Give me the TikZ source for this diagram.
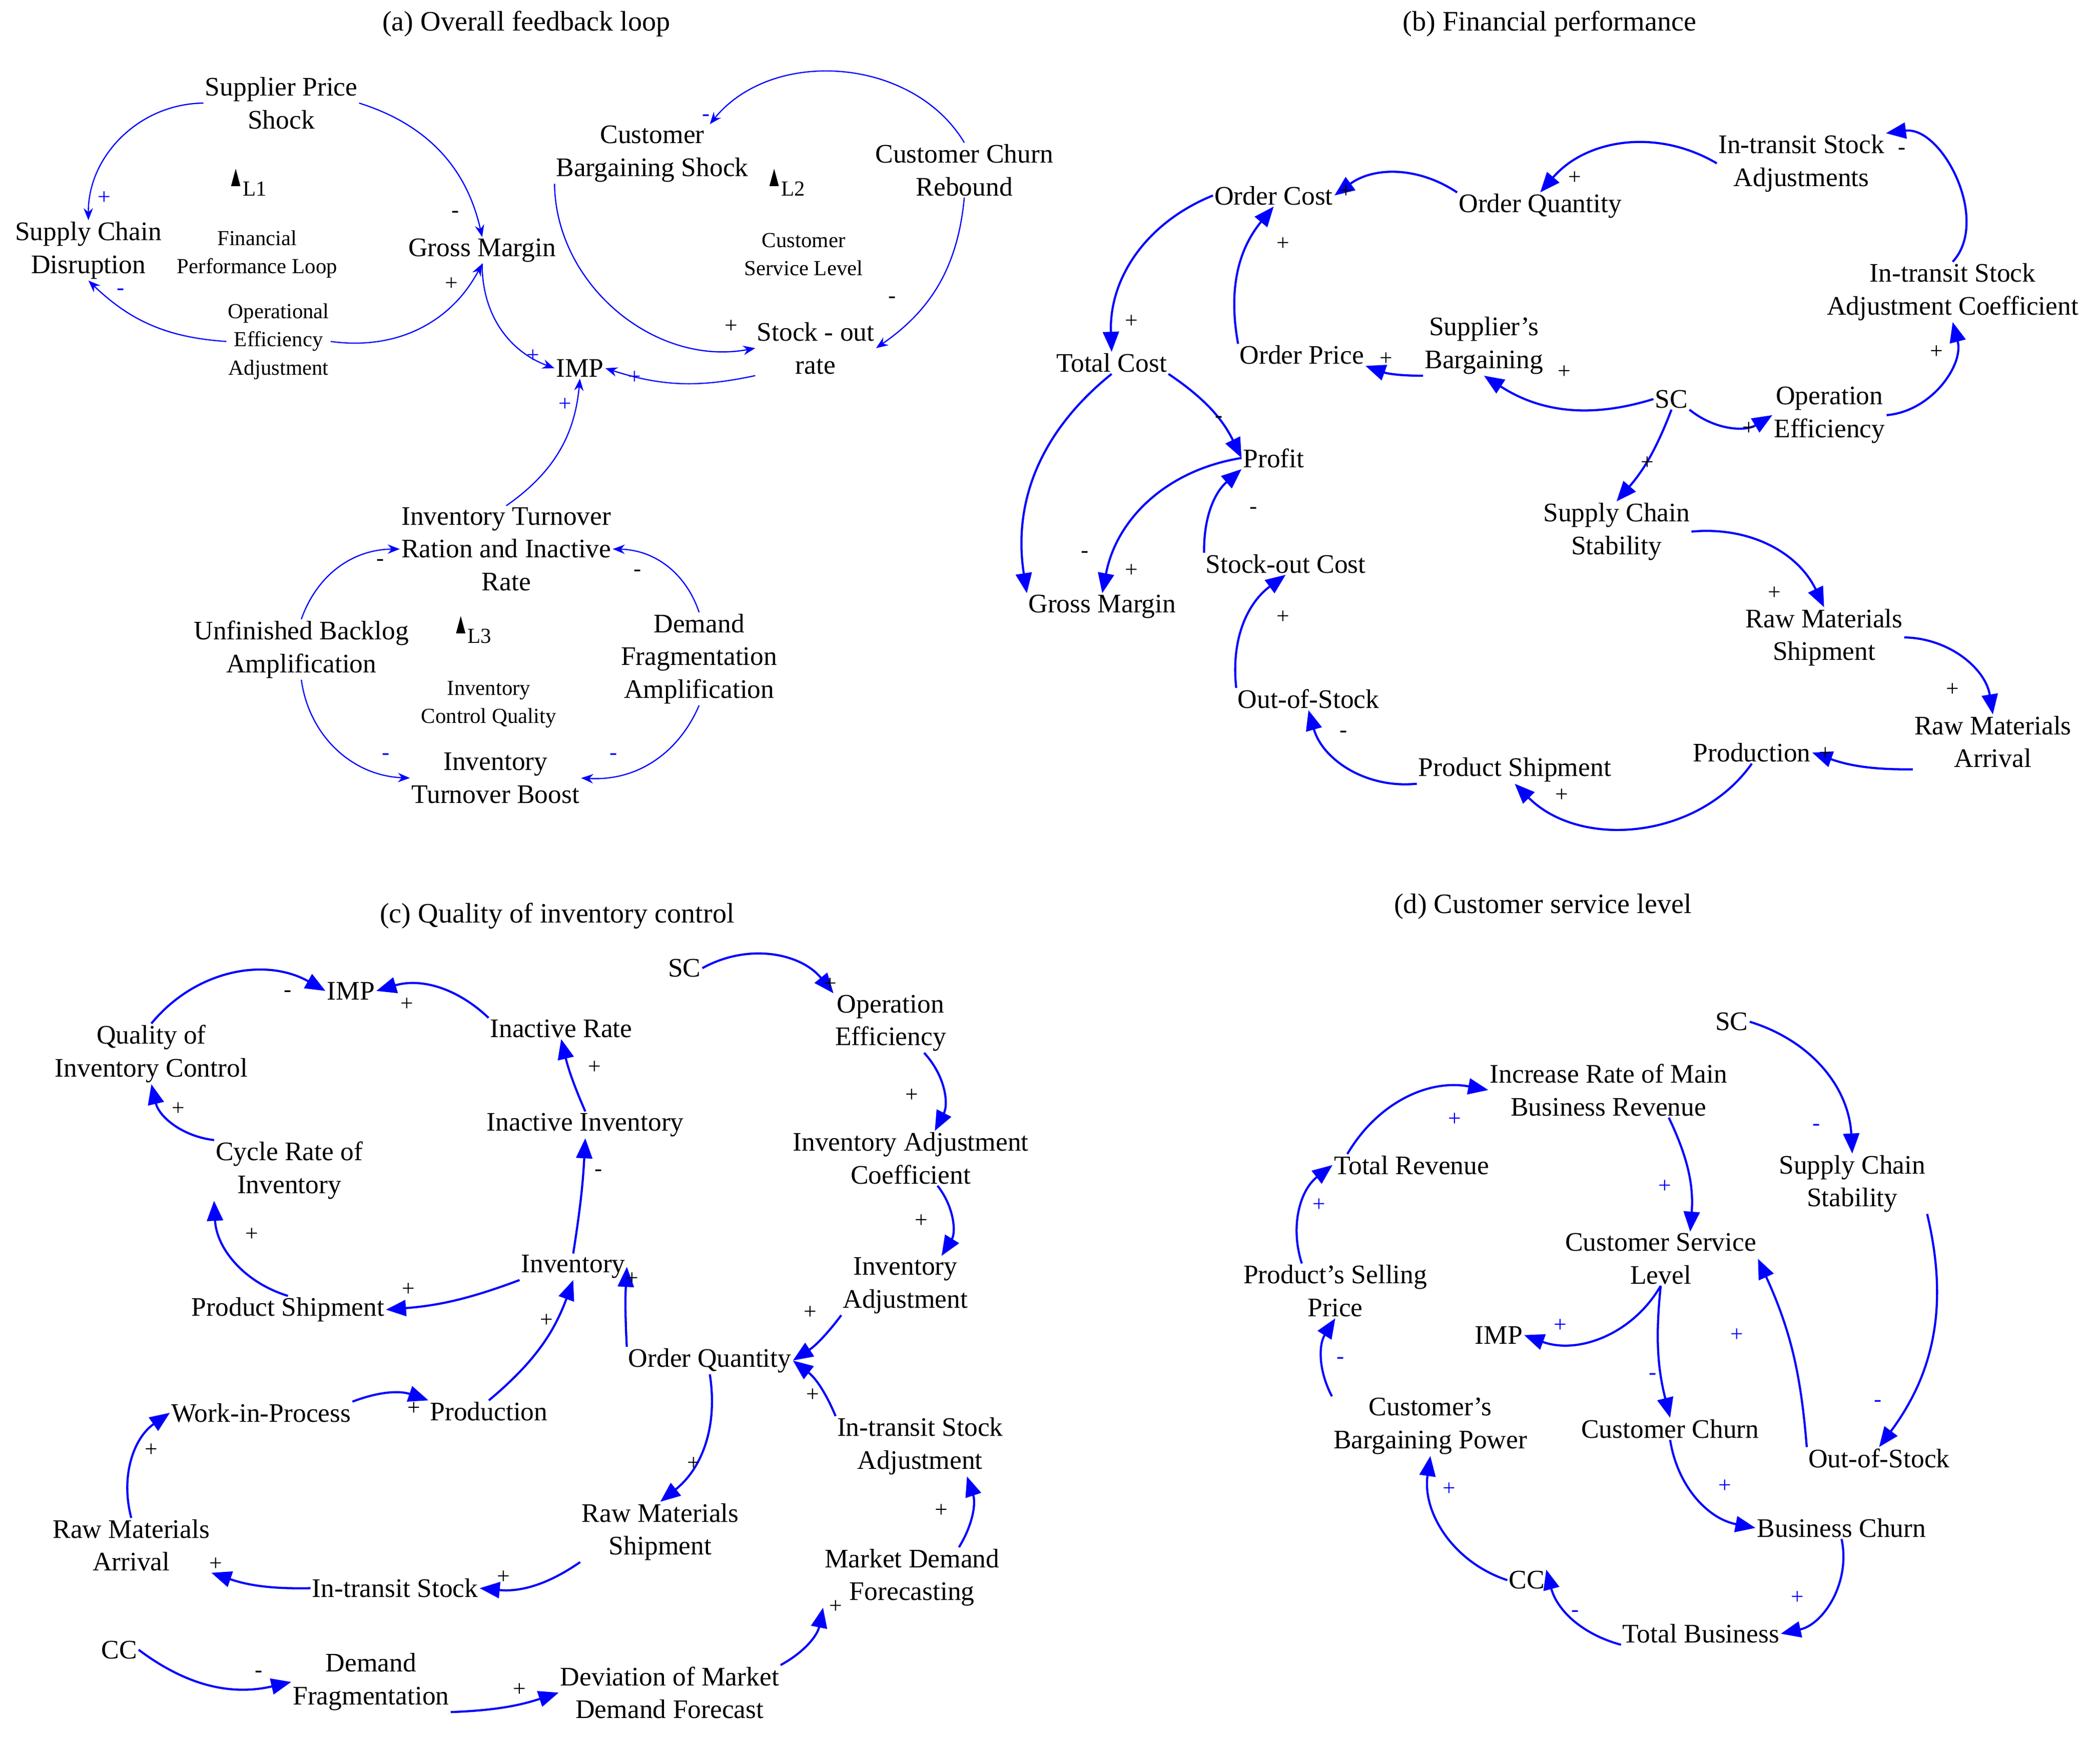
\documentclass[tikz,border=0pt]{standalone}
\usepackage{fontspec}
\setmainfont{Liberation Serif}
\usetikzlibrary{arrows.meta}
\tikzset{
  var/.style={align=center, inner sep=1pt, font=\fontsize{20}{24.5}\selectfont},
  small/.style={align=center, inner sep=1pt, font=\fontsize{16}{21}\selectfont},
  ttl/.style={inner sep=1pt, font=\fontsize{21}{24}\selectfont},
  thin/.style={draw=blue, line width=0.9pt, -{Stealth[length=9pt,width=7pt]}},
  thick/.style={draw=blue, line width=1.6pt, -{Triangle[length=15pt,width=12pt]}},
  sg/.style={inner sep=0pt, font=\fontsize{17}{17}\selectfont},
  bs/.style={sg, text=blue}
}
\begin{document}
\begin{tikzpicture}[x=1pt,y=-1pt]
\useasboundingbox (0,0) rectangle (1568,1297);

% (a) overall feedback loop
\node[ttl] (ta) at (393,18) {(a) Overall feedback loop};
\node[var] (sps) at (210,77) {Supplier Price\\Shock};
\node[var] (scd) at (66,187) {Supply Chain\\Disruption};
\node[var] (gm) at (360,187) {Gross Margin};
\node[small] (oea) at (208,255) {Operational\\Efficiency\\Adjustment};
\node[small] (fpl) at (192,190) {Financial\\Performance Loop};
\node[var] (cbs) at (487,115) {Customer\\Bargaining Shock};
\node[var] (ccr) at (720,127) {Customer Churn\\Rebound};
\node[small] (csla) at (600,190) {Customer\\Service Level};
\node[var] (sor) at (609,260) {Stock - out\\rate};
\node[var] (impa) at (433,275) {IMP};
\node[var] (itr) at (378,410) {Inventory Turnover\\Ration and Inactive\\Rate};
\node[var] (ubl) at (225,485) {Unfinished Backlog\\Amplification};
\node[var] (dfa) at (522,492) {Demand\\Fragmentation\\Amplification};
\node[var] (itb) at (370,581) {Inventory\\Turnover Boost};
\node[small] (icq) at (365,526) {Inventory\\Control Quality};
\foreach \n/\x/\y in {L1/176/133, L2/578/133, L3/344/467}{
  \fill (\x-3.5,\y+6) -- (\x+3.5,\y+6) -- (\x,\y-7) -- cycle;
  \node[small, anchor=west] (n\n) at (\x+4,\y+8) {\n};
}

\draw[thin] (sps.west) to[bend right=45] (scd.north);
\draw[thin] (sps.east) to[bend left=30] (gm.north);
\draw[thin] (oea.west) to[bend left=20] (scd.south);
\draw[thin] (oea.east) to[bend right=35] (gm.south);
\draw[thin] (gm.south) to[bend right=35] (impa.west);
\draw[thin] (ccr.north) to[bend right=55] ([xshift=-30pt]cbs.north east);
\draw[thin] (cbs.south west) to[bend right=50] (sor.west);
\draw[thin] (ccr.south) to[bend left=25] (sor.east);
\draw[thin] (sor.south west) to[bend left=15] (impa.east);
\draw[thin] (itr.north) to[bend right=25] (impa.south);
\draw[thin] (ubl.north) to[bend left=35] (itr.west);
\draw[thin] (dfa.north) to[bend right=35] (itr.east);
\draw[thin] (ubl.south) to[bend right=40] (itb.west);
\draw[thin] (dfa.south) to[bend left=35] (itb.east);

\node[bs] (a1) at (78,148) {+};
\node[sg] (a2) at (340,160) {-};
\node[bs] (a3) at (90,218) {-};
\node[sg] (a4) at (337,212) {+};
\node[bs] (a5) at (398,266) {+};
\node[bs] (a6) at (527,88) {-};
\node[sg] (a7) at (546,244) {+};
\node[sg] (a8) at (666,224) {-};
\node[bs] (a9) at (474,282) {+};
\node[bs] (a10) at (422,302) {+};
\node[sg] (a11) at (284,420) {-};
\node[sg] (a12) at (476,428) {-};
\node[bs] (a13) at (288,565) {-};
\node[bs] (a14) at (458,565) {-};

% (b) financial performance
\node[ttl] (tb) at (1157,18) {(b) Financial performance};
\node[var] (oc) at (951,146) {Order Cost};
\node[var] (oq) at (1150,154) {Order Quantity};
\node[var] (its) at (1345,122) {In-transit Stock\\Adjustments};
\node[var] (itsc) at (1458,218) {In-transit Stock\\Adjustment Coefficient};
\node[var] (tc) at (830,271) {Total Cost};
\node[var] (op) at (972,265) {Order Price};
\node[var] (sb) at (1108,258) {Supplier's\\Bargaining};
\node[var] (scb) at (1248,298) {SC};
\node[var] (oe) at (1366,310) {Operation\\Efficiency};
\node[var] (pf) at (951,342) {Profit};
\node[var] (scs) at (1207,397) {Supply Chain\\Stability};
\node[var] (soc) at (960,421) {Stock-out Cost};
\node[var] (gmb) at (823,453) {Gross Margin};
\node[var] (rms) at (1362,476) {Raw Materials\\Shipment};
\node[var] (oos) at (977,522) {Out-of-Stock};
\node[var] (rma) at (1488,554) {Raw Materials\\Arrival};
\node[var] (prod) at (1308,562) {Production};
\node[var] (ps) at (1131,575) {Product Shipment};

\draw[thick] (oq.north west) to[bend right=35] (oc.east);
\draw[thick] (its.west) to[bend right=40] (oq.north);
\draw[thick] (itsc.north) to[bend right=70] (its.north east);
\draw[thick] (oe.east) to[bend right=50] (itsc.south);
\draw[thick] (scb.south east) to[bend right=35] (oe.west);
\draw[thick] (scb.west) to[bend left=25] (sb.south);
\draw[thick] (sb.south west) to[bend left=10] (op.south east);
\draw[thick] (op.north west) to[bend left=25] (oc.south);
\draw[thick] (oc.west) to[bend right=35] (tc.north);
\draw[thick] (tc.south east) to[bend left=15] (pf.west);
\draw[thick] (tc.south) to[bend right=30] (gmb.north west);
\draw[thick] (pf.west) to[bend right=35] (gmb.north);
\draw[thick] (soc.north west) to[bend left=25] (pf.south west);
\draw[thick] (oos.north west) to[bend left=30] (soc.south);
\draw[thick] (ps.south west) to[bend left=40] (oos.south);
\draw[thick] (prod.south) to[bend left=50] (ps.south);
\draw[thick] (rma.south west) to[bend left=10] (prod.east);
\draw[thick] (rms.east) to[bend left=40] (rma.north);
\draw[thick] (scs.east) to[bend left=35] (rms.north);
\draw[thick] (scb.south) to[bend left=10] (scs.north);

\node[sg] (b1) at (1005,143) {+};
\node[sg] (b2) at (1176,133) {+};
\node[sg] (b3) at (1420,113) {-};
\node[sg] (b4) at (1446,263) {+};
\node[sg] (b5) at (1306,320) {+};
\node[sg] (b6) at (1168,278) {+};
\node[sg] (b7) at (1035,268) {+};
\node[sg] (b8) at (958,182) {+};
\node[sg] (b9) at (845,240) {+};
\node[sg] (b10) at (910,313) {-};
\node[sg] (b11) at (810,414) {-};
\node[sg] (b12) at (845,426) {+};
\node[sg] (b13) at (936,381) {-};
\node[sg] (b14) at (958,461) {+};
\node[sg] (b15) at (1003,548) {-};
\node[sg] (b16) at (1166,594) {+};
\node[sg] (b17) at (1363,563) {+};
\node[sg] (b18) at (1458,515) {+};
\node[sg] (b19) at (1325,443) {+};
\node[sg] (b20) at (1230,346) {+};

% (c) quality of inventory control
\node[ttl] (tcc) at (416,684) {(c) Quality of inventory control};
\node[var] (impc) at (262,740) {IMP};
\node[var] (qic) at (113,787) {Quality of\\Inventory Control};
\node[var] (ir) at (419,768) {Inactive Rate};
\node[var] (cri) at (216,874) {Cycle Rate of\\Inventory};
\node[var] (ii) at (437,840) {Inactive Inventory};
\node[var] (inv) at (428,946) {Inventory};
\node[var] (psc) at (215,978) {Product Shipment};
\node[var] (oqc) at (530,1016) {Order Quantity};
\node[var] (scc) at (511,723) {SC};
\node[var] (oec) at (665,764) {Operation\\Efficiency};
\node[var] (iac) at (680,865) {Inventory Adjustment\\Coefficient};
\node[var] (ia) at (676,960) {Inventory\\Adjustment};
\node[var] (wip) at (195,1055) {Work-in-Process};
\node[var] (prc) at (365,1054) {Production};
\node[var] (itsa) at (687,1080) {In-transit Stock\\Adjustment};
\node[var] (rmsc) at (493,1144) {Raw Materials\\Shipment};
\node[var] (rmac) at (98,1154) {Raw Materials\\Arrival};
\node[var] (itsk) at (295,1186) {In-transit Stock};
\node[var] (mdf) at (681,1178) {Market Demand\\Forecasting};
\node[var] (ccc) at (89,1232) {CC};
\node[var] (dfr) at (277,1256) {Demand\\Fragmentation};
\node[var] (dmd) at (500,1264) {Deviation of Market\\Demand Forecast};

\draw[thick] (qic.north) to[bend left=40] (impc.west);
\draw[thick] (ir.north west) to[bend right=30] (impc.east);
\draw[thick] (cri.north west) to[bend left=35] (qic.south);
\draw[thick] (ii.north) to[bend left=5] (ir.south);
\draw[thick] (inv.north) to[bend right=3] (ii.south);
\draw[thick] (psc.north) to[bend left=35] (cri.south west);
\draw[thick] (inv.south west) to[bend left=8] (psc.east);
\draw[thick] (prc.north) to[bend right=15] (inv.south);
\draw[thick] (oqc.north west) to[bend left=3] (inv.east);
\draw[thick] (wip.north east) to[bend left=20] (prc.north west);
\draw[thick] (rmac.north) to[bend left=35] (wip.west);
\draw[thick] (scc.east) to[bend left=40] (oec.north west);
\draw[thick] ([xshift=25pt]oec.south) to[bend left=35] ([xshift=18pt]iac.north);
\draw[thick] ([xshift=20pt]iac.south) to[bend left=35] ([xshift=27pt]ia.north);
\draw[thick] (ia.south west) to[bend left=10] (oqc.east);
\draw[thick] (itsa.north west) to[bend right=15] (oqc.east);
\draw[thick] ([xshift=35pt]mdf.north) to[bend right=25] ([xshift=35pt]itsa.south);
\draw[thick] (dmd.north east) to[bend right=25] (mdf.south west);
\draw[thick] (oqc.south) to[bend left=30] (rmsc.north);
\draw[thick] (rmsc.south west) to[bend left=20] (itsk.east);
\draw[thick] (itsk.west) to[bend left=10] (rmac.south east);
\draw[thick] (ccc.east) to[bend right=25] (dfr.west);
\draw[thick] (dfr.south east) to[bend right=8] (dmd.west);

\node[sg] (c1) at (215,742) {-};
\node[sg] (c2) at (304,750) {+};
\node[sg] (c3) at (133,828) {+};
\node[sg] (c4) at (444,797) {+};
\node[sg] (c5) at (447,876) {-};
\node[sg] (c6) at (188,922) {+};
\node[sg] (c7) at (305,963) {+};
\node[sg] (c8) at (408,986) {+};
\node[sg] (c9) at (472,955) {+};
\node[sg] (c10) at (309,1052) {+};
\node[sg] (c11) at (113,1083) {+};
\node[sg] (c12) at (620,735) {+};
\node[sg] (c13) at (681,818) {+};
\node[sg] (c14) at (688,912) {+};
\node[sg] (c15) at (605,980) {+};
\node[sg] (c16) at (607,1042) {+};
\node[sg] (c17) at (703,1128) {+};
\node[sg] (c18) at (624,1200) {+};
\node[sg] (c19) at (518,1093) {+};
\node[sg] (c20) at (376,1178) {+};
\node[sg] (c21) at (161,1168) {+};
\node[sg] (c22) at (193,1250) {-};
\node[sg] (c23) at (388,1262) {+};

% (d) customer service level
\node[ttl] (td) at (1152,677) {(d) Customer service level};
\node[var] (scd2) at (1293,763) {SC};
\node[var] (irm) at (1201,814) {Increase Rate of Main\\Business Revenue};
\node[var] (trv) at (1054,870) {Total Revenue};
\node[var] (scsd) at (1383,884) {Supply Chain\\Stability};
\node[var] (csl) at (1240,940) {Customer Service\\Level};
\node[var] (psp) at (997,964) {Product's Selling\\Price};
\node[var] (impd) at (1119,997) {IMP};
\node[var] (cbp) at (1068,1065) {Customer's\\Bargaining Power};
\node[var] (cch) at (1247,1067) {Customer Churn};
\node[var] (oosd) at (1403,1089) {Out-of-Stock};
\node[var] (bch) at (1375,1141) {Business Churn};
\node[var] (ccd) at (1140,1180) {CC};
\node[var] (tbz) at (1270,1220) {Total Business};

\draw[thick] (scd2.east) to[bend left=35] (scsd.north);
\draw[thick] ([xshift=-48pt]trv.north) to[bend left=35] (irm.west);
\draw[thick] ([xshift=-25pt]psp.north) to[bend left=35] (trv.west);
\draw[thick] ([xshift=45pt]irm.south) to[bend left=15] ([xshift=22pt]csl.north);
\draw[thick] (csl.south) to[bend left=40] (impd.east);
\draw[thick] (csl.south) to[bend right=10] (cch.north);
\draw[thick] (oosd.north west) to[bend right=10] (csl.east);
\draw[thick] (scsd.south east) to[bend left=25] (oosd.north);
\draw[thick] (cbp.north west) to[bend left=30] (psp.south);
\draw[thick] (cch.south) to[bend right=35] (bch.west);
\draw[thick] (bch.south) to[bend left=45] (tbz.east);
\draw[thick] (tbz.south west) to[bend left=30] (ccd.north east);
\draw[thick] (ccd.west) to[bend left=40] (cbp.south);

\node[bs] (d1) at (1356,842) {-};
\node[bs] (d2) at (1086,836) {+};
\node[bs] (d3) at (985,900) {+};
\node[bs] (d4) at (1243,886) {+};
\node[bs] (d5) at (1165,990) {+};
\node[bs] (d6) at (1234,1028) {-};
\node[bs] (d7) at (1297,997) {+};
\node[bs] (d8) at (1402,1048) {-};
\node[bs] (d9) at (1001,1016) {-};
\node[bs] (d10) at (1288,1110) {+};
\node[bs] (d11) at (1342,1193) {+};
\node[bs] (d12) at (1176,1205) {-};
\node[bs] (d13) at (1082,1112) {+};
\end{tikzpicture}
\end{document}
